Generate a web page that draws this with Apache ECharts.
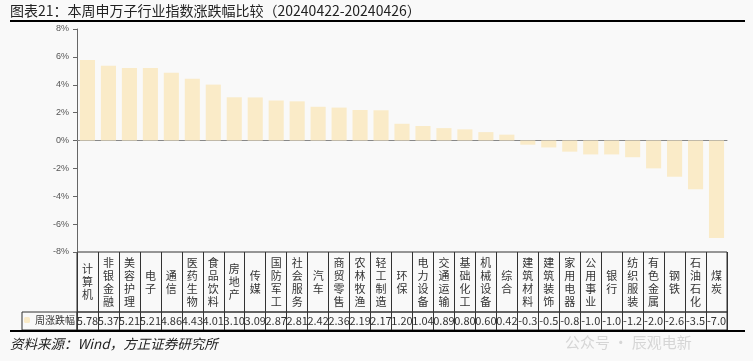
<!DOCTYPE html>
<html><head><meta charset="utf-8">
<script src="https://cdn.jsdelivr.net/npm/echarts@6/dist/echarts.min.js"></script>
<style>html,body{margin:0;padding:0;background:#f9f9f9;}#c{width:753px;height:361px;}</style>
</head><body><div id="c"></div>
<script>
const categories = ['计算机','非银金融','美容护理','电子','通信','医药生物','食品饮料','房地产','传媒','国防军工','社会服务','汽车','商贸零售','农林牧渔','轻工制造','环保','电力设备','交通运输','基础化工','机械设备','综合','建筑材料','建筑装饰','家用电器','公用事业','银行','纺织服装','有色金属','钢铁','石油石化','煤炭'];
const values = [5.78,5.37,5.21,5.21,4.86,4.43,4.01,3.10,3.09,2.87,2.81,2.42,2.36,2.19,2.17,1.20,1.04,0.89,0.80,0.60,0.42,-0.3,-0.5,-0.8,-1.0,-1.0,-1.2,-2.0,-2.6,-3.5,-7.0];
const valueLabels = ['5.78','5.37','5.21','5.21','4.86','4.43','4.01','3.10','3.09','2.87','2.81','2.42','2.36','2.19','2.17','1.20','1.04','0.89','0.80','0.60','0.42','-0.3','-0.5','-0.8','-1.0','-1.0','-1.2','-2.0','-2.6','-3.5','-7.0'];
const seriesName = '周涨跌幅';
const titleText = '图表21：本周申万子行业指数涨跌幅比较（20240422-20240426）';
const sourceText = '资料来源：Wind，方正证券研究所';

const cjk = '"Noto Sans CJK SC", sans-serif';
const chart = echarts.init(document.getElementById('c'));
const L = 77, R = 26;
chart.setOption({
  backgroundColor: '#f9f9f9',
  animation: false,
  grid: [
    {left: L, right: R, top: 29, height: 223},
    {left: L, right: R, top: 252, height: 60, show: true, borderColor: '#333', borderWidth: 1, backgroundColor: 'transparent'},
    {left: L, right: R, top: 312, height: 18, show: true, borderColor: '#333', borderWidth: 1, backgroundColor: 'transparent'}
  ],
  xAxis: [
    {gridIndex: 0, type: 'category', data: categories, axisLabel: {show: false}, axisTick: {show: false},
     axisLine: {show: true, onZero: true, lineStyle: {color: '#888', width: 1}}},
    {gridIndex: 1, type: 'category', data: categories, position: 'bottom',
     axisLine: {show: false}, axisTick: {show: false},
     splitLine: {show: true, lineStyle: {color: '#333', width: 1}},
     axisLabel: {interval: 0, margin: -30, verticalAlign: 'middle', fontFamily: cjk, fontSize: 11, lineHeight: 13, color: '#333',
       formatter: v => v.split('').join('\n')}},
    {gridIndex: 2, type: 'category', data: valueLabels, position: 'bottom',
     axisLine: {show: false}, axisTick: {show: false},
     splitLine: {show: true, lineStyle: {color: '#333', width: 1}},
     axisLabel: {interval: 0, margin: -9, verticalAlign: 'middle', fontFamily: cjk, fontSize: 11, color: '#333'}}
  ],
  yAxis: [
    {gridIndex: 0, type: 'value', min: -8, max: 8, interval: 2,
     axisLine: {show: true, lineStyle: {color: '#666'}}, axisTick: {show: true, length: 4, lineStyle: {color: '#666'}},
     splitLine: {show: false},
     axisLabel: {formatter: v => v + '%', fontSize: 9, color: '#555', fontFamily: 'Arial', margin: 8}},
    {gridIndex: 1, type: 'value', min: 0, max: 1, show: false},
    {gridIndex: 2, type: 'value', min: 0, max: 1, show: false}
  ],
  legend: {show: true, left: 24, top: 315, padding: 0, itemWidth: 6, itemHeight: 6, itemGap: 4,
    textStyle: {fontFamily: cjk, fontSize: 10, color: '#333'}, data: [seriesName]},
  series: [
    {name: seriesName, type: 'bar', xAxisIndex: 0, yAxisIndex: 0, data: values, barCategoryGap: '28%',
     itemStyle: {color: '#FAEBC8'}}
  ],
  graphic: [
    {type: 'text', left: 10, top: 4, style: {text: titleText, font: '14px ' + cjk, fill: '#222'}},
    {type: 'line', shape: {x1: 10, y1: 21, x2: 745, y2: 21}, style: {stroke: '#000', lineWidth: 2}},
    {type: 'rect', shape: {x: 22, y: 312, width: 55, height: 18}, style: {fill: 'none', stroke: '#333', lineWidth: 1}},
    {type: 'line', shape: {x1: 10, y1: 331, x2: 745, y2: 331}, style: {stroke: '#000', lineWidth: 2}},
    {type: 'text', left: 10, top: 337, style: {text: sourceText, font: 'italic 13.5px ' + cjk, fill: '#222'}},
    {type: 'text', left: 565, top: 335, style: {text: '公众号 · 辰观电新', font: '15px ' + cjk, fill: 'rgba(150,150,150,0.35)'}}
  ]
});
</script></body></html>
